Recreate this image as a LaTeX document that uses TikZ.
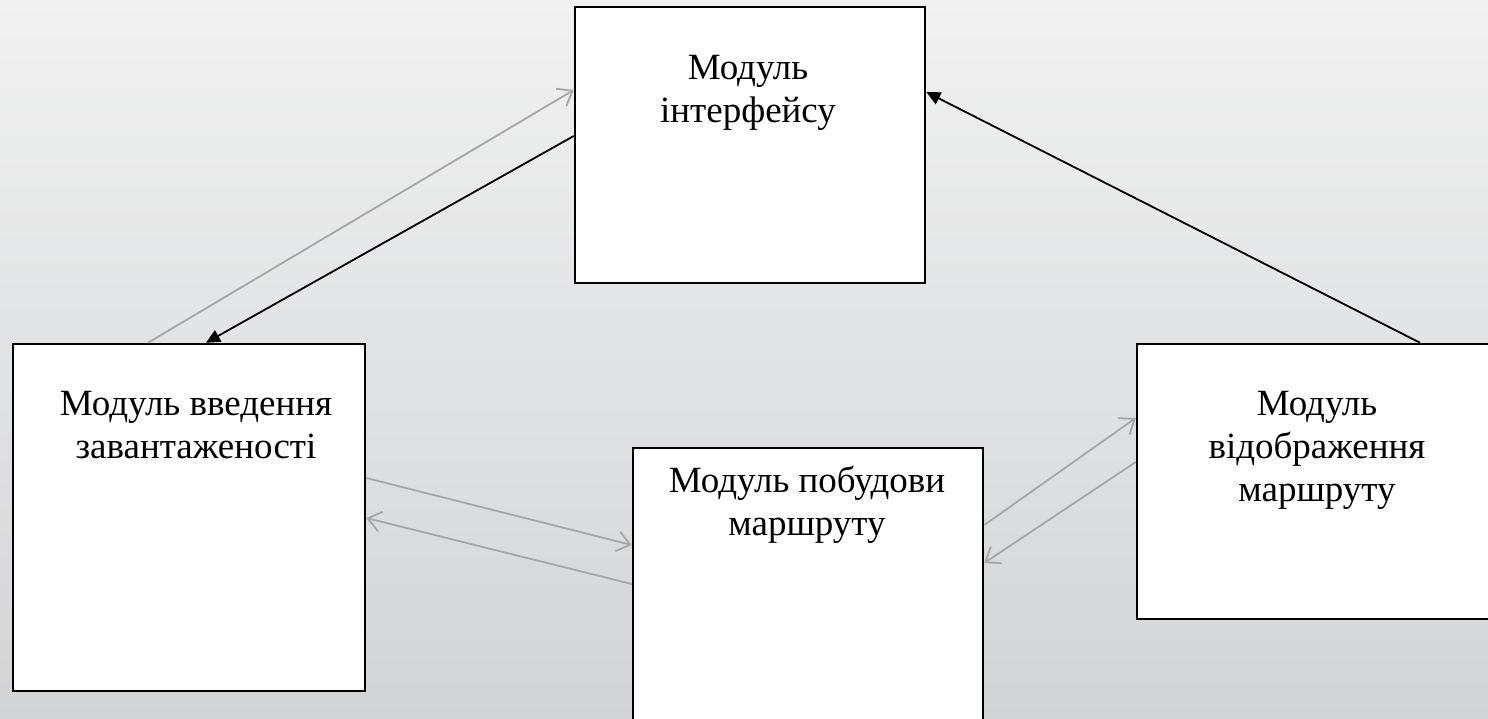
\documentclass[tikz,border=0pt]{standalone}
\usepackage{fontspec}
\setmainfont{Liberation Serif}
\usetikzlibrary{arrows.meta}
\definecolor{bgtop}{HTML}{F1F1F1}
\definecolor{bgbot}{HTML}{D2D4D6}
\definecolor{linkgray}{HTML}{A6A6A6}
\tikzset{
  box/.style={draw=black, line width=2.5pt, fill=white, inner sep=0pt},
  lbl/.style={anchor=base, align=center, inner sep=0pt, font=\fontsize{37}{43}\selectfont},
  glink/.style={draw=linkgray, line width=1.8pt, -{Straight Barb[length=13pt,width=20pt,line width=1.8pt]}},
  blink/.style={draw=black, line width=1.8pt, -{Triangle[length=14pt,width=13pt]}}
}
\begin{document}
\begin{tikzpicture}[x=1pt,y=-1pt]
\useasboundingbox (0,0) rectangle (1488,719);
\clip (0,0) rectangle (1488,719);
\shade[top color=bgtop, bottom color=bgbot] (0,0) rectangle (1488,719);
% boxes
\node[box, minimum width=350pt, minimum height=276pt] (iface) at (750,145) {};
\node[box, minimum width=352pt, minimum height=347pt] (inp) at (189,517.5) {};
\node[box, minimum width=350pt, minimum height=312pt] (build) at (808,604) {};
\node[box, minimum width=360pt, minimum height=275pt] (show) at (1317,481.5) {};
% labels (anchor = baseline of the last line)
\node[lbl] (tiface) at (748,123) {Модуль\\інтерфейсу};
\node[lbl] (tinp) at (196,458) {Модуль введення\\завантаженості};
\node[lbl] (tbuild) at (807,535) {Модуль побудови\\маршруту};
\node[lbl] (tshow) at (1317,501) {Модуль\\відображення\\маршруту};
% connectors
\draw[glink] ([xshift=-41pt]inp.north) -- ([yshift=55pt]iface.west);
\draw[blink] ([yshift=9pt]iface.west) -- ([xshift=17pt]inp.north);
\draw[blink] ([xshift=103pt]show.north) -- ([yshift=53pt]iface.east);
\draw[glink] ([yshift=39.5pt]inp.east) -- ([yshift=59pt]build.west);
\draw[glink] ([yshift=20pt]build.west) -- ([yshift=-0.5pt]inp.east);
\draw[glink] ([yshift=79pt]build.east) -- ([yshift=63.5pt]show.west);
\draw[glink] ([yshift=19.5pt]show.west) -- ([yshift=41pt]build.east);
\end{tikzpicture}
\end{document}
